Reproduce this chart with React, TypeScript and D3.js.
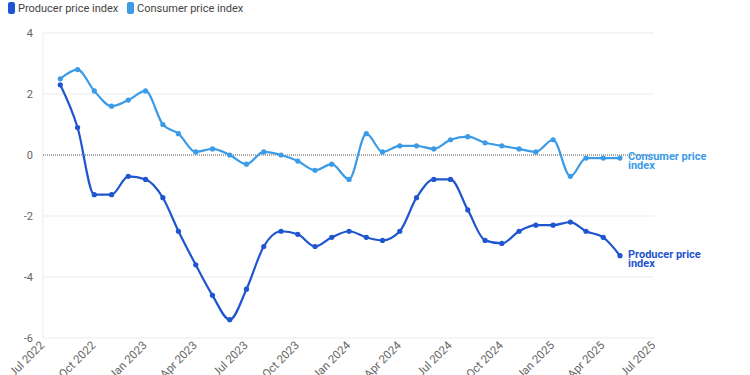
import React from "react";
import * as d3 from "d3";

const months: string[] = [
  "2022-08","2022-09","2022-10","2022-11","2022-12",
  "2023-01","2023-02","2023-03","2023-04","2023-05","2023-06","2023-07","2023-08","2023-09","2023-10","2023-11","2023-12",
  "2024-01","2024-02","2024-03","2024-04","2024-05","2024-06","2024-07","2024-08","2024-09","2024-10","2024-11","2024-12",
  "2025-01","2025-02","2025-03","2025-04","2025-05",
];
const ppi: number[] = [
  2.3, 0.9, -1.3, -1.3, -0.7,
  -0.8, -1.4, -2.5, -3.6, -4.6, -5.4, -4.4, -3.0, -2.5, -2.6, -3.0, -2.7,
  -2.5, -2.7, -2.8, -2.5, -1.4, -0.8, -0.8, -1.8, -2.8, -2.9, -2.5, -2.3,
  -2.3, -2.2, -2.5, -2.7, -3.3,
];
const cpi: number[] = [
  2.5, 2.8, 2.1, 1.6, 1.8,
  2.1, 1.0, 0.7, 0.1, 0.2, 0.0, -0.3, 0.1, 0.0, -0.2, -0.5, -0.3,
  -0.8, 0.7, 0.1, 0.3, 0.3, 0.2, 0.5, 0.6, 0.4, 0.3, 0.2, 0.1,
  0.5, -0.7, -0.1, -0.1, -0.1,
];
const yTicks: number[] = [4, 2, 0, -2, -4, -6];
const xTickDates: string[] = [
  "2022-07","2022-10","2023-01","2023-04","2023-07","2023-10",
  "2024-01","2024-04","2024-07","2024-10","2025-01","2025-04","2025-07",
];
const seriesNames: string[] = ["Producer price index", "Consumer price index"];
const seriesLabelLines: string[][] = [["Producer price", "index"], ["Consumer price", "index"]];
const colors: string[] = ["#1f55cf", "#3b9be6"];

const W = 750;
const H = 375;
const FONT = "Roboto, 'Noto Sans', sans-serif";

export default function App() {
  const parse = d3.timeParse("%Y-%m");
  const dates = months.map((m) => parse(m) as Date);
  const x = d3
    .scaleTime()
    .domain([parse("2022-07") as Date, parse("2025-07") as Date])
    .range([43, 654]);
  const y = d3.scaleLinear().domain([-6, 4]).range([338, 33]);
  const fmtTick = d3.timeFormat("%b %Y");

  const line = d3
    .line<[Date, number]>()
    .x((d) => x(d[0]))
    .y((d) => y(d[1]))
    .curve(d3.curveMonotoneX);

  const all = [ppi, cpi];
  const lastDate = dates[dates.length - 1];

  return (
    <svg
      width={W}
      height={H}
      style={{ position: "absolute", left: 0, top: 0, fontFamily: FONT }}
    >
      <rect x={0} y={0} width={W} height={H} fill="#fff" />
      {/* legend */}
      {(() => {
        let lx = 8;
        return seriesNames.map((n, i) => {
          const gx = lx;
          const tw = n.length * 5.1;
          lx += 10 + tw + 7;
          return (
            <g key={n}>
              <rect x={gx} y={2} width={7} height={12} rx={2} fill={colors[i]} />
              <text x={gx + 10} y={12} fontSize={11} fill="#444">
                {n}
              </text>
            </g>
          );
        });
      })()}
      {/* grid */}
      {yTicks.map((t) =>
        t === 0 ? null : (
          <line key={t} x1={43} x2={654} y1={y(t)} y2={y(t)} stroke="#ebebeb" strokeWidth={1} />
        )
      )}
      <line x1={43} x2={43} y1={33} y2={338} stroke="#ebebeb" strokeWidth={1} />
      {yTicks.map((t) => (
        <text key={"yl" + t} x={33} y={y(t) + 4} fontSize={11} fill="#666" textAnchor="end">
          {t}
        </text>
      ))}
      <line x1={43} x2={654} y1={y(0)} y2={y(0)} stroke="#555" strokeWidth={1} strokeDasharray="1,1" />
      {/* x tick labels */}
      {xTickDates.map((s) => {
        const dx = x(parse(s) as Date);
        return (
          <text
            key={s}
            transform={`translate(${dx + 2},${346}) rotate(-45)`}
            fontSize={11.5}
            fill="#666"
            textAnchor="end"
          >
            {fmtTick(parse(s) as Date)}
          </text>
        );
      })}
      {/* series: draw CPI first then PPI */}
      {[1, 0].map((si) => {
        const data: [Date, number][] = dates.map((d, i) => [d, all[si][i]]);
        return (
          <g key={si}>
            <path d={line(data) || ""} fill="none" stroke={colors[si]} strokeWidth={2.2} />
            {data.map((d, i) => (
              <circle key={i} cx={x(d[0])} cy={y(d[1])} r={2.6} fill={colors[si]} />
            ))}
          </g>
        );
      })}
      {/* end labels */}
      {[1, 0].map((si) => {
        const vy = y(all[si][all[si].length - 1]);
        return (
          <text key={"el" + si} x={x(lastDate) + 8} y={vy + 2} fontSize={11} fontWeight={700} fill={colors[si]}>
            {seriesLabelLines[si].map((l, j) => (
              <tspan key={j} x={x(lastDate) + 8} dy={j === 0 ? 0 : 9}>
                {l}
              </tspan>
            ))}
          </text>
        );
      })}
    </svg>
  );
}
